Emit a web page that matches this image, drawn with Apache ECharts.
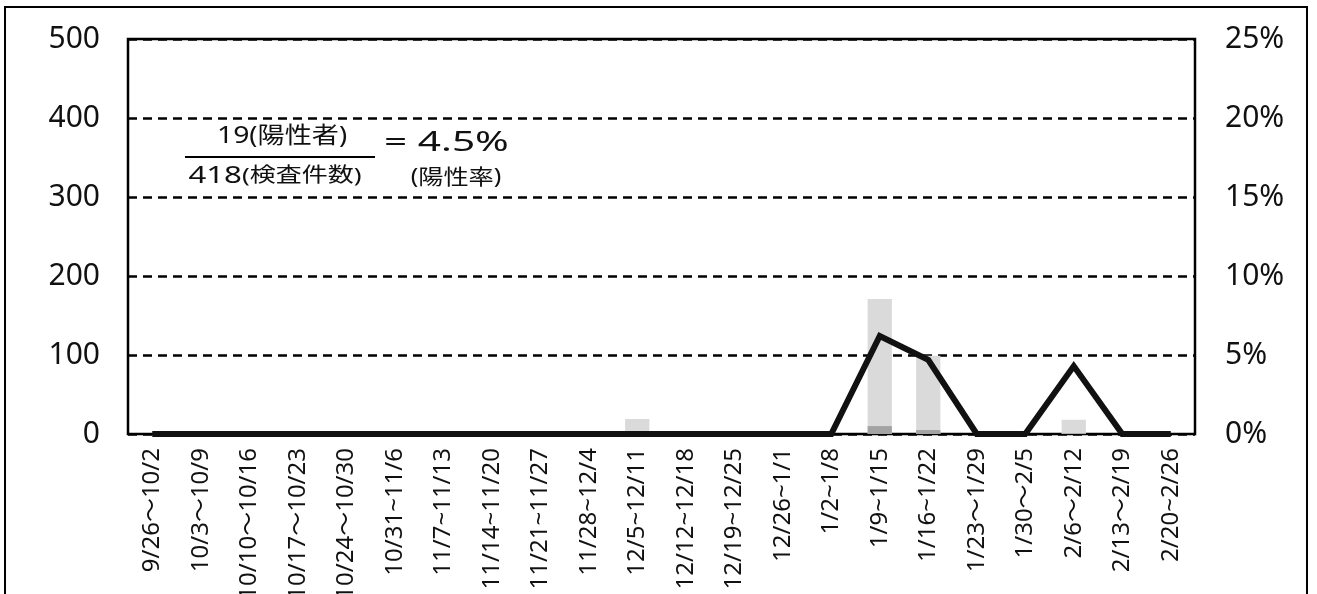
<!DOCTYPE html>
<html>
<head>
<meta charset="utf-8">
<script src="https://cdn.jsdelivr.net/npm/echarts@6/dist/echarts.min.js"></script>
<style>
  html, body { margin: 0; padding: 0; background: #fff; }
  #chart { width: 1317px; height: 594px; }
</style>
</head>
<body>
<div id="chart"></div>
<script>
// Weekly periods (x axis)
const weeks = [
  '9/26〜10/2', '10/3〜10/9', '10/10〜10/16', '10/17〜10/23', '10/24〜10/30',
  '10/31~11/6', '11/7~11/13', '11/14~11/20', '11/21~11/27', '11/28~12/4',
  '12/5~12/11', '12/12~12/18', '12/19~12/25', '12/26~1/1', '1/2~1/8',
  '1/9~1/15', '1/16~1/22', '1/23〜1/29', '1/30〜2/5', '2/6〜2/12',
  '2/13〜2/19', '2/20~2/26'
];
// Number of tests per week (left axis)
const testCounts = [0, 0, 0, 0, 0, 0, 0, 0, 0, 0, 19, 0, 0, 0, 0, 171, 99, 0, 0, 18, 0, 0];
// Number of positives per week (left axis)
const positiveCounts = [0, 0, 0, 0, 0, 0, 0, 0, 0, 0, 0, 0, 0, 0, 0, 10, 5, 0, 0, 1, 0, 0];
// Positivity rate per week, % (right axis)
const positiveRate = [0, 0, 0, 0, 0, 0, 0, 0, 0, 0, 0, 0, 0, 0, 0, 6.2, 4.7, 0, 0, 4.3, 0, 0];

const latin = "Noto Sans, Noto Sans CJK JP, sans-serif";

const chart = echarts.init(document.getElementById('chart'), null, { renderer: 'canvas' });

function txt(size) {
  return { fontSize: size, fontFamily: latin, fill: '#111' };
}

chart.setOption({
  animation: false,
  backgroundColor: '#fff',
  grid: {
    left: 128, right: 122, top: 39, bottom: 160,
    outerBoundsMode: 'none',
    show: true, borderColor: '#000', borderWidth: 2.5, backgroundColor: 'transparent'
  },
  xAxis: {
    type: 'category',
    data: weeks,
    axisLine: { show: false },
    axisTick: { show: false },
    axisLabel: {
      interval: 0, rotate: 90, margin: 14,
      fontSize: 24, color: '#111', fontFamily: latin
    }
  },
  yAxis: [
    {
      type: 'value', min: 0, max: 500, interval: 100,
      axisLine: { show: false }, axisTick: { show: false },
      axisLabel: { fontSize: 30, color: '#111', margin: 28, fontFamily: latin },
      splitLine: { show: true, lineStyle: { color: '#000', width: 2.5, type: [9, 6] } }
    },
    {
      type: 'value', min: 0, max: 25, interval: 5, position: 'right',
      axisLine: { show: false }, axisTick: { show: false },
      axisLabel: { fontSize: 30, color: '#111', margin: 30, fontFamily: latin, formatter: '{value}%' },
      splitLine: { show: false }
    }
  ],
  series: [
    {
      name: '検査件数', type: 'bar', data: testCounts, barWidth: '50%',
      itemStyle: { color: '#dadada' }, z: 2
    },
    {
      name: '陽性者', type: 'bar', data: positiveCounts, barWidth: '50%', barGap: '-100%',
      itemStyle: { color: '#a3a3a3' }, z: 3
    },
    {
      name: '陽性率', type: 'line', yAxisIndex: 1, data: positiveRate,
      symbol: 'none', lineStyle: { color: '#111', width: 6, join: 'miter' }, z: 5
    }
  ],
  graphic: [
    {
      type: 'rect', z: -10,
      shape: { x: 5, y: 7, width: 1302, height: 620 },
      style: { fill: 'none', stroke: '#000', lineWidth: 2 }
    },
    {
      // numerator: positives
      type: 'text', x: 282, y: 136, z: 10, scaleX: 1.18,
      style: {
        text: '{a|19}{b|(陽性者)}', align: 'center', verticalAlign: 'middle',
        fontSize: 23, fontFamily: latin, fill: '#111',
        rich: { a: txt(24), b: txt(23) }
      }
    },
    {
      type: 'line', z: 10,
      shape: { x1: 185, y1: 157, x2: 375, y2: 157 },
      style: { stroke: '#000', lineWidth: 2 }
    },
    {
      // denominator: tests
      type: 'text', x: 275, y: 176, z: 10, scaleX: 1.3,
      style: {
        text: '{a|418}{b|(検査件数)}', align: 'center', verticalAlign: 'middle',
        fontSize: 22, fontFamily: latin, fill: '#111',
        rich: { a: txt(24), b: txt(20) }
      }
    },
    {
      type: 'text', x: 384, y: 143, z: 10, scaleX: 1.45,
      style: {
        text: '= 4.5%', align: 'left', verticalAlign: 'middle',
        fontSize: 28, fontFamily: latin, fill: '#111'
      }
    },
    {
      type: 'text', x: 456, y: 178, z: 10, scaleX: 1.2,
      style: {
        text: '(陽性率)', align: 'center', verticalAlign: 'middle',
        fontSize: 21, fontFamily: latin, fill: '#111'
      }
    }
  ]
});
</script>
</body>
</html>
